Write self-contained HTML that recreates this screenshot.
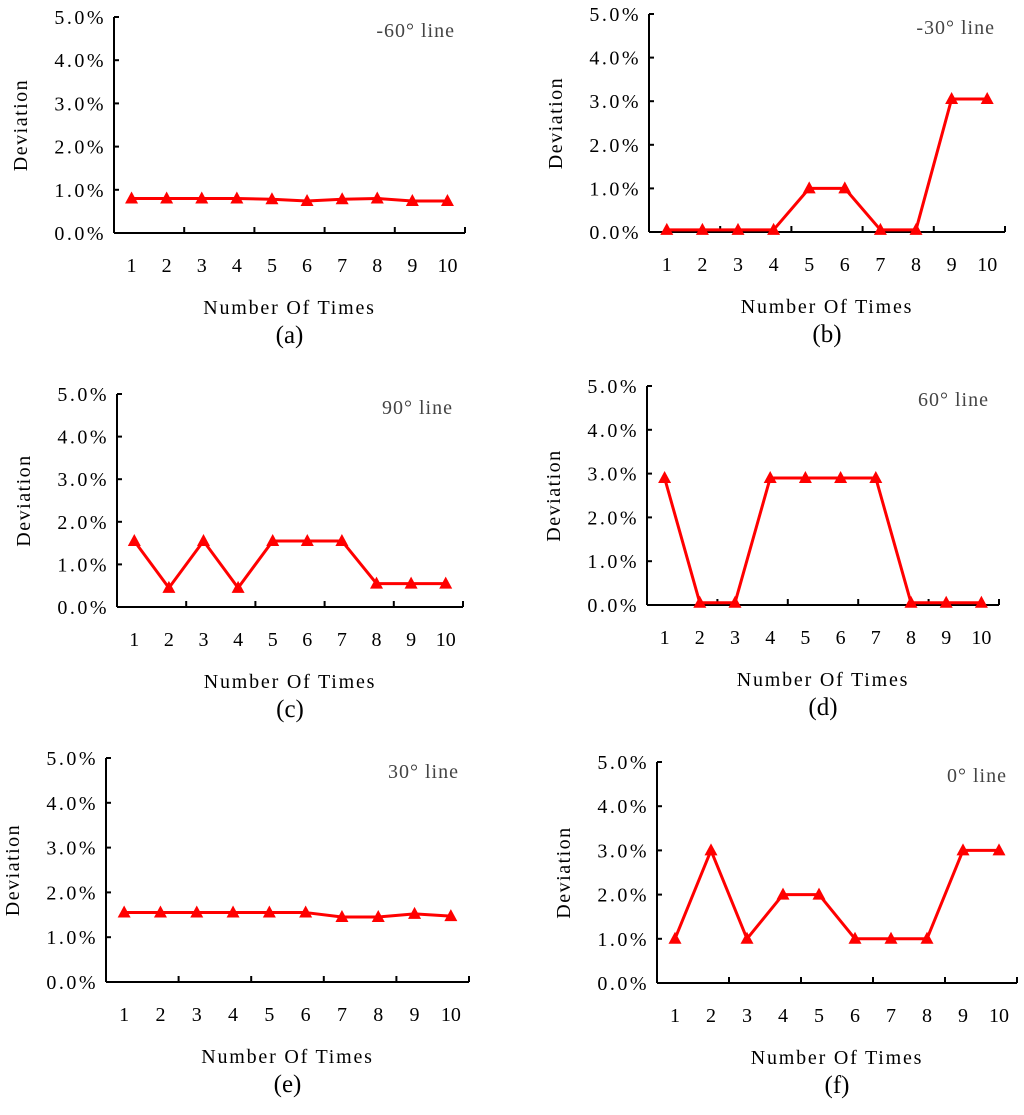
<!DOCTYPE html>
<html><head><meta charset="utf-8"><style>
body{margin:0;background:#fff;width:1024px;height:1110px;overflow:hidden}
svg text{font-family:"Liberation Serif",serif}
</style></head><body>
<svg id="fig" width="1024" height="1110" xmlns="http://www.w3.org/2000/svg"></svg>
<script>
const categories=[1,2,3,4,5,6,7,8,9,10];
const yTicks=[0,1,2,3,4,5];
const yTickLabels=["0.0%","1.0%","2.0%","3.0%","4.0%","5.0%"];
const seriesA=[0.8,0.8,0.8,0.8,0.78,0.74,0.78,0.8,0.74,0.74];
const seriesB=[0.05,0.05,0.05,0.05,1.0,1.0,0.05,0.05,3.05,3.05];
const seriesC=[1.55,0.45,1.55,0.45,1.55,1.55,1.55,0.55,0.55,0.55];
const seriesD=[2.9,0.05,0.05,2.9,2.9,2.9,2.9,0.05,0.05,0.05];
const seriesE=[1.55,1.55,1.55,1.55,1.55,1.55,1.45,1.45,1.52,1.47];
const seriesF=[1,3,1,2,2,1,1,1,3,3];
const titles=["-60° line","-30° line","90° line","60° line","30° line","0° line"];
const panelLetters=["(a)","(b)","(c)","(d)","(e)","(f)"];
const allSeries=[seriesA,seriesB,seriesC,seriesD,seriesE,seriesF];
const panels=[
 {x0:114,x1:465,top:17,bot:233},
 {x0:649,x1:1005,top:14,bot:232},
 {x0:117,x1:463,top:394,bot:607},
 {x0:647,x1:999,top:386,bot:605},
 {x0:106,x1:469,top:758,bot:982},
 {x0:657,x1:1017,top:762,bot:983}
];
const svg=document.getElementById('fig');
const NS="http://www.w3.org/2000/svg";
function mk(tag,attrs,parent){const e=document.createElementNS(NS,tag);for(const k in attrs)e.setAttribute(k,attrs[k]);(parent||svg).appendChild(e);return e;}
panels.forEach((p,pi)=>{
 const g=mk('g',{});
 
 
 const n=categories.length, step=(p.x1-p.x0)/n;
 const xs=i=>p.x0+(i+0.5)*step;
 const ys=v=>p.bot-(v/5)*(p.bot-p.top);
 const ya=mk('line',{x1:p.x0,y1:p.top,x2:p.x0,y2:p.bot,stroke:'#000','stroke-width':2},g);
 
 
 const xa=mk('line',{x1:p.x0,y1:p.bot,x2:p.x1,y2:p.bot,stroke:'#000','stroke-width':2},g);
 
 
 yTicks.forEach((t,ti)=>{
  const y=ys(t);
  mk('line',{x1:p.x0,y1:y,x2:p.x0+5,y2:y,stroke:'#000','stroke-width':2},g);
  const tx=mk('text',{x:p.x0-8,y:y+7,'text-anchor':'end','font-size':20,'letter-spacing':2.5,fill:'#000'},g);
  tx.textContent=yTickLabels[ti];
  
  
 });
 for(let k=2;k<=n;k+=2){const x=p.x0+k*step;mk('line',{x1:x,y1:p.bot,x2:x,y2:p.bot-6,stroke:'#000','stroke-width':2},g);}
 categories.forEach((c,i)=>{
  const tx=mk('text',{x:xs(i),y:p.bot+39,'text-anchor':'middle','font-size':20,fill:'#000'},g);
  tx.textContent=c;
  
  
 });
 const cx=(p.x0+p.x1)/2;
 const xt=mk('text',{x:cx,y:p.bot+81,'text-anchor':'middle','font-size':20,'letter-spacing':1.8,fill:'#000'},g);
 xt.textContent='Number Of Times';
 
 
 const pl=mk('text',{x:cx,y:p.bot+110,'text-anchor':'middle','font-size':25,fill:'#000'},g);
 pl.textContent=panelLetters[pi];
 
 
 const my=(p.top+p.bot)/2, yx=p.x0-87;
 const yt=mk('text',{x:yx,y:my,'text-anchor':'middle','font-size':20,'letter-spacing':1.5,fill:'#000',transform:`rotate(-90 ${yx} ${my})`},g);
 yt.textContent='Deviation';
 
 
 const tt=mk('text',{x:p.x1-10,y:p.top+20,'text-anchor':'end','font-size':20,'letter-spacing':1,fill:'#444'},g);
 tt.textContent=titles[pi];
 
 
 const data=allSeries[pi];
 const pts=data.map((v,i)=>xs(i)+','+ys(v)).join(' ');
 const ln=mk('polyline',{points:pts,fill:'none',stroke:'#ff0000','stroke-width':3,'stroke-linejoin':'round'},g);
 
 
 data.forEach((v,i)=>{
  const x=xs(i),y=ys(v);
  const m=mk('polygon',{points:`${x-6.5},${y+5} ${x+6.5},${y+5} ${x},${y-7}`,fill:'#ff0000'},g);
  
  
 });
});
</script>
</body></html>
